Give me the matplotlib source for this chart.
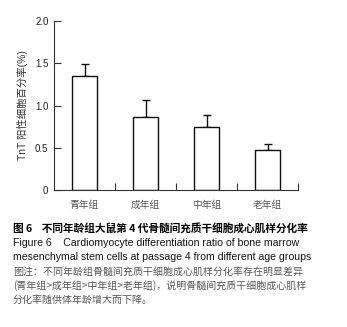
import matplotlib.pyplot as plt
import numpy as np

plt.rcParams['font.family'] = ['Liberation Sans', 'Noto Sans CJK SC', 'DejaVu Sans']

# --- data ---
groups = ["青年组", "成年组", "中年组", "老年组"]
ratio = [1.35, 0.86, 0.74, 0.47]
ratio_sd = [0.14, 0.20, 0.15, 0.07]
y_ticks = [0, 0.5, 1.0, 1.5, 2.0]
y_tick_labels = ["0", "0.5", "1.0", "1.5", "2.0"]

fig = plt.figure(figsize=(3.47, 3.27), dpi=100)
ax = fig.add_axes([54 / 347, 137 / 327, 244 / 347, 169 / 327])

x = np.arange(len(groups))
ax.bar(x, ratio, width=0.41, color="white", edgecolor="#111111", linewidth=1.0, zorder=2)
ax.errorbar(x, ratio, yerr=[np.zeros(len(ratio)), ratio_sd], fmt="none",
            ecolor="#111111", elinewidth=1.0, capsize=3, capthick=1.0, zorder=1)

ax.set_xlim(-0.5, 3.5)
ax.set_ylim(0, 2.0)
ax.set_yticks(y_ticks)
ax.set_yticklabels(y_tick_labels)
# major ticks sit between the groups, labels go on minor ticks at the bar centres
ax.set_xticks(x + 0.5, minor=False)
ax.set_xticklabels([])
ax.set_xticks(x, minor=True)
ax.set_xticklabels(groups, minor=True, fontsize=7, color="#555555",
                   family=["Noto Sans CJK SC"])
ax.tick_params(axis="x", which="minor", length=0, pad=7)
ax.tick_params(axis="x", which="major", direction="in", length=5, width=0.8, color="#333333")
ax.tick_params(axis="y", direction="in", length=5, width=0.8, color="#333333",
               labelsize=7, pad=4, labelcolor="#222222")

for side in ["top", "right"]:
    ax.spines[side].set_visible(False)
for side in ["left", "bottom"]:
    ax.spines[side].set_color("#333333")
    ax.spines[side].set_linewidth(0.8)

ax.set_ylabel("TnT 阳性细胞百分率(%)", fontsize=7.5, color="#333333", labelpad=5)

# --- caption ---
fig.text(13 / 347, 1 - 228 / 327, "图 6    不同年龄组大鼠第 4 代骨髓间充质干细胞成心肌样分化率",
         fontsize=7.7, fontweight="bold", va="center", family=["Noto Sans CJK SC"])
fig.text(13 / 347, 1 - 243 / 327, "Figure 6    Cardiomyocyte differentiation ratio of bone marrow",
         fontsize=7.6, va="center", color="#111111")
fig.text(13 / 347, 1 - 257 / 327, "mesenchymal stem cells at passage 4 from different age groups",
         fontsize=7.6, va="center", color="#111111")
note = ["图注：不同年龄组骨髓间充质干细胞成心肌样分化率存在明显差异",
        "(青年组>成年组>中年组>老年组)，说明骨髓间充质干细胞成心肌样",
        "分化率随供体年龄增大而下降。"]
for i, line in enumerate(note):
    fig.text(13 / 347, 1 - (272 + 14 * i) / 327, line, fontsize=7.2, va="center",
             color="#555555", family=["Noto Sans CJK SC"])

plt.savefig("out.png", dpi=100)
